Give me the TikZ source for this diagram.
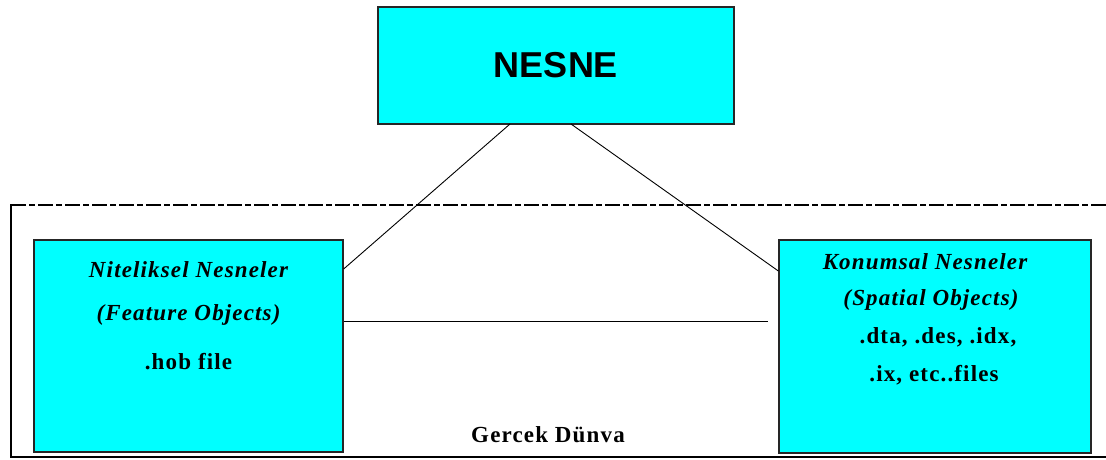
\documentclass[tikz,border=0pt]{standalone}
\usepackage{fontspec}
\setmainfont{Liberation Serif}
\newfontfamily\titlefont{Liberation Sans}
\newfontfamily\boxfont[LetterSpace=5]{Liberation Serif}
\definecolor{boxcyan}{HTML}{00FFFF}
\begin{document}
\begin{tikzpicture}[x=1pt,y=-1pt,
  cyanbox/.style={draw=black!85, line width=1.3pt, fill=boxcyan, inner sep=0pt},
  boxtext/.style={font=\boxfont\bfseries\fontsize{23}{23}\selectfont, inner sep=0pt, anchor=center},
  link/.style={draw=black, line width=0.9pt}]
\useasboundingbox (0,0) rectangle (1106,460);

% real-world frame: dashed top, solid left and bottom
\draw[line width=1.4pt, dash pattern=on 15pt off 3pt on 6pt off 3pt] (11,205) -- (1106,205);
\draw[line width=2.6pt] (11,204) -- (11,457);
\draw[line width=2pt] (10,457) -- (1106,457);

% boxes
\node[cyanbox, minimum width=356pt, minimum height=117pt] (nesne) at (556,65.5) {};
\node[font=\titlefont\bfseries\fontsize{36}{36}\selectfont, inner sep=0pt] (nesnetxt) at (nesne.center) {NESNE};

\node[cyanbox, minimum width=309pt, minimum height=212pt] (feat) at (188.5,346) {};
\node[boxtext] (f1) at (188.5,270) {\itshape Niteliksel Nesneler};
\node[boxtext] (f2) at (188.5,315) {\itshape (Feature Objects)};
\node[boxtext] (f3) at (188.5,362) {.hob file};

\node[cyanbox, minimum width=312pt, minimum height=213pt] (spat) at (935,346.5) {};
\node[boxtext] (s1) at (925,262) {\itshape Konumsal Nesneler};
\node[boxtext] (s2) at (931,300) {\itshape (Spatial Objects)};
\node[boxtext] (s3) at (938,337) {.dta, .des, .idx,};
\node[boxtext] (s4) at (934,375) {.ix, etc..files};

\node[boxtext] (world) at (548,435) {Gercek Dünva};

% connectors
\coordinate (nl) at (510,124);
\coordinate (nr) at (571,124);
\coordinate (hend) at (768,321);
\draw[link] (nl) -- (feat.north east |- 0,269);
\draw[link] (nr) -- (spat.north west |- 0,271);
\draw[link] (feat.east |- 0,321) -- (hend);
\end{tikzpicture}
\end{document}
